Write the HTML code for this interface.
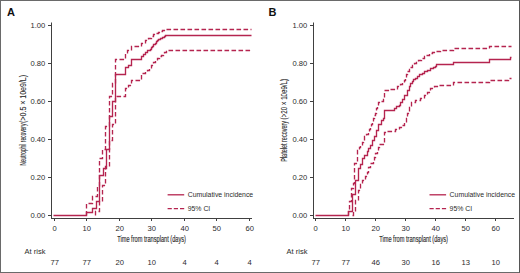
<!DOCTYPE html>
<html><head><meta charset="utf-8"><style>
html,body{margin:0;padding:0;background:#fff;}
body{width:520px;height:273px;overflow:hidden;position:relative;}
.frame{position:absolute;left:0;top:0;width:518px;height:271px;border:1px solid #6a6a6a;border-right-color:#555;}
svg{position:absolute;left:0;top:0;font-family:"Liberation Sans",sans-serif;}
text{stroke:none;}
text.ttl,text.ytl{stroke:#2b2b2b;}
text.ttl{stroke-width:0.15px;}
text.ytl{stroke-width:0.1px;}
</style></head><body>
<div class="frame"></div>
<svg width="520" height="273" viewBox="0 0 520 273">
<text x="6.9" y="15.7" font-size="11" font-weight="bold" fill="#111">A</text>
<path d="M51.5,22.5 V219 M51.0,218.5 H252" fill="none" stroke="#404040" stroke-width="1"/>
<text x="45.3" y="27.5" font-size="7.6" text-anchor="end" fill="#2b2b2b">1.00</text>
<text x="45.3" y="65.5" font-size="7.6" text-anchor="end" fill="#2b2b2b">0.80</text>
<text x="45.3" y="103.5" font-size="7.6" text-anchor="end" fill="#2b2b2b">0.60</text>
<text x="45.3" y="141.5" font-size="7.6" text-anchor="end" fill="#2b2b2b">0.40</text>
<text x="45.3" y="179.5" font-size="7.6" text-anchor="end" fill="#2b2b2b">0.20</text>
<text x="45.3" y="217.5" font-size="7.6" text-anchor="end" fill="#2b2b2b">0.00</text>
<text x="54.7" y="230.5" font-size="7.6" text-anchor="middle" fill="#2b2b2b">0</text>
<text x="54.7" y="264.8" font-size="7.6" text-anchor="middle" fill="#2b2b2b">77</text>
<text x="86.7" y="230.5" font-size="7.6" text-anchor="middle" fill="#2b2b2b">10</text>
<text x="86.7" y="264.8" font-size="7.6" text-anchor="middle" fill="#2b2b2b">77</text>
<text x="119.7" y="230.5" font-size="7.6" text-anchor="middle" fill="#2b2b2b">20</text>
<text x="119.7" y="264.8" font-size="7.6" text-anchor="middle" fill="#2b2b2b">20</text>
<text x="151.7" y="230.5" font-size="7.6" text-anchor="middle" fill="#2b2b2b">30</text>
<text x="151.7" y="264.8" font-size="7.6" text-anchor="middle" fill="#2b2b2b">10</text>
<text x="184.7" y="230.5" font-size="7.6" text-anchor="middle" fill="#2b2b2b">40</text>
<text x="184.7" y="264.8" font-size="7.6" text-anchor="middle" fill="#2b2b2b">4</text>
<text x="216.7" y="230.5" font-size="7.6" text-anchor="middle" fill="#2b2b2b">50</text>
<text x="216.7" y="264.8" font-size="7.6" text-anchor="middle" fill="#2b2b2b">4</text>
<text x="249.7" y="230.5" font-size="7.6" text-anchor="middle" fill="#2b2b2b">60</text>
<text x="249.7" y="264.8" font-size="7.6" text-anchor="middle" fill="#2b2b2b">4</text>
<path d="M48,25.5 H51 M48,63.5 H51 M48,101.5 H51 M48,139.5 H51 M48,177.5 H51 M48,215.5 H51 M54.5,219 V221 M86.5,219 V221 M119.5,219 V221 M151.5,219 V221 M184.5,219 V221 M216.5,219 V221 M249.5,219 V221" fill="none" stroke="#404040" stroke-width="1"/>
<text x="117.2" y="242.4" font-size="8.6" textLength="68.8" lengthAdjust="spacingAndGlyphs" fill="#2b2b2b" class="ttl">Time from transplant (days)</text>
<text x="24.6" y="253.7" font-size="7.5" fill="#2b2b2b">At risk</text>
<text transform="translate(25.8,165.6) rotate(-90)" font-size="8.2" textLength="41.90" lengthAdjust="spacingAndGlyphs" fill="#2b2b2b" class="ytl">Neutrophil recovery</text>
<text transform="translate(25.8,122.9) rotate(-90)" font-size="8.2" textLength="48.00" lengthAdjust="spacingAndGlyphs" fill="#2b2b2b" class="ytl">(&gt;0.5 × 10e9/L)</text>
<line x1="167.6" y1="194.8" x2="184.2" y2="194.8" stroke="#b5244f" stroke-width="1.3"/>
<text x="187.7" y="197.3" font-size="6.9" fill="#2b2b2b">Cumulative incidence</text>
<line x1="167.6" y1="208.6" x2="184.2" y2="208.6" stroke="#b5244f" stroke-width="1.3" stroke-dasharray="4.2 2"/>
<text x="187.7" y="211.1" font-size="6.9" fill="#2b2b2b">95% CI</text>
<path d="M86.5,215.5 V203.5 H92.5 V196.5 H97.5 V186.5 H99.5 V158.5 H102.5 V149.5 H105.5 V126.5 H109.5 V96.5 H112.5 V83.5 H115.5 V59.5 H125.5 V53.5 H127.5 V50.5 H131.5 V46.5 H141.5 V43.5 H145.5 V40.5 H148.5 V38.5 H151.5 V36.5 H153.5 V34.5 H156.5 V33.5 H158.5 V32.5 H160.5 V31.5 H162.5 V30.5 H165.5 V29.5 H169.5 V29.5 H251.5" fill="none" stroke="#b5244f" stroke-width="1.35" stroke-dasharray="4.6 2.4"/>
<path d="M95.5,215.5 V211.5 H99.5 V201.5 H102.5 V185.5 H105.5 V166.5 H109.5 V140.5 H112.5 V124.5 H115.5 V96.5 H125.5 V88.5 H128.5 V85.5 H131.5 V80.5 H141.5 V73.5 H145.5 V71.5 H147.5 V70.5 H149.5 V68.5 H151.5 V65.5 H153.5 V62.5 H155.5 V60.5 H157.5 V58.5 H159.5 V56.5 H161.5 V55.5 H163.5 V53.5 H164.5 V52.5 H166.5 V51.5 H168.5 V50.5 H251.5" fill="none" stroke="#b5244f" stroke-width="1.35" stroke-dasharray="4.6 2.4"/>
<path d="M53.5,215.5 H86.5 V212.5 H92.5 V208.5 H96.5 V201.5 H99.5 V175.5 H103.5 V168.5 H106.5 V149.5 H109.5 V116.5 H112.5 V101.5 H115.5 V74.5 H125.5 V67.5 H128.5 V65.5 H131.5 V59.5 H141.5 V56.5 H143.5 V54.5 H145.5 V52.5 H147.5 V50.5 H150.5 V49.5 H151.5 V47.5 H152.5 V46.5 H153.5 V44.5 H155.5 V43.5 H156.5 V41.5 H157.5 V40.5 H158.5 V39.5 H160.5 V38.5 H162.5 V37.5 H164.5 V36.5 H165.5 V35.5 H168.5 V35.5 H251.5" fill="none" stroke="#b5244f" stroke-width="1.35"/>
<text x="268.6" y="15.7" font-size="11" font-weight="bold" fill="#111">B</text>
<path d="M313.5,22.5 V219 M313.0,218.5 H514" fill="none" stroke="#404040" stroke-width="1"/>
<text x="307.3" y="27.5" font-size="7.6" text-anchor="end" fill="#2b2b2b">1.00</text>
<text x="307.3" y="65.5" font-size="7.6" text-anchor="end" fill="#2b2b2b">0.80</text>
<text x="307.3" y="103.5" font-size="7.6" text-anchor="end" fill="#2b2b2b">0.60</text>
<text x="307.3" y="141.5" font-size="7.6" text-anchor="end" fill="#2b2b2b">0.40</text>
<text x="307.3" y="179.5" font-size="7.6" text-anchor="end" fill="#2b2b2b">0.20</text>
<text x="307.3" y="217.5" font-size="7.6" text-anchor="end" fill="#2b2b2b">0.00</text>
<text x="315.7" y="230.5" font-size="7.6" text-anchor="middle" fill="#2b2b2b">0</text>
<text x="315.7" y="264.8" font-size="7.6" text-anchor="middle" fill="#2b2b2b">77</text>
<text x="345.7" y="230.5" font-size="7.6" text-anchor="middle" fill="#2b2b2b">10</text>
<text x="345.7" y="264.8" font-size="7.6" text-anchor="middle" fill="#2b2b2b">77</text>
<text x="375.7" y="230.5" font-size="7.6" text-anchor="middle" fill="#2b2b2b">20</text>
<text x="375.7" y="264.8" font-size="7.6" text-anchor="middle" fill="#2b2b2b">46</text>
<text x="405.7" y="230.5" font-size="7.6" text-anchor="middle" fill="#2b2b2b">30</text>
<text x="405.7" y="264.8" font-size="7.6" text-anchor="middle" fill="#2b2b2b">30</text>
<text x="435.7" y="230.5" font-size="7.6" text-anchor="middle" fill="#2b2b2b">40</text>
<text x="435.7" y="264.8" font-size="7.6" text-anchor="middle" fill="#2b2b2b">16</text>
<text x="465.7" y="230.5" font-size="7.6" text-anchor="middle" fill="#2b2b2b">50</text>
<text x="465.7" y="264.8" font-size="7.6" text-anchor="middle" fill="#2b2b2b">13</text>
<text x="495.7" y="230.5" font-size="7.6" text-anchor="middle" fill="#2b2b2b">60</text>
<text x="495.7" y="264.8" font-size="7.6" text-anchor="middle" fill="#2b2b2b">10</text>
<path d="M310,25.5 H313 M310,63.5 H313 M310,101.5 H313 M310,139.5 H313 M310,177.5 H313 M310,215.5 H313 M315.5,219 V221 M345.5,219 V221 M375.5,219 V221 M405.5,219 V221 M435.5,219 V221 M465.5,219 V221 M495.5,219 V221" fill="none" stroke="#404040" stroke-width="1"/>
<text x="379.2" y="242.4" font-size="8.6" textLength="68.80000000000001" lengthAdjust="spacingAndGlyphs" fill="#2b2b2b" class="ttl">Time from transplant (days)</text>
<text x="286.6" y="253.7" font-size="7.5" fill="#2b2b2b">At risk</text>
<text transform="translate(287.2,161.8) rotate(-90)" font-size="8.2" textLength="40.90" lengthAdjust="spacingAndGlyphs" fill="#2b2b2b" class="ytl">Platelet recovery</text>
<text transform="translate(287.2,119.4) rotate(-90)" font-size="8.2" textLength="40.50" lengthAdjust="spacingAndGlyphs" fill="#2b2b2b" class="ytl">(&gt;20 × 10e9/L)</text>
<line x1="429.5" y1="194.8" x2="446.1" y2="194.8" stroke="#b5244f" stroke-width="1.3"/>
<text x="449.6" y="197.3" font-size="6.9" fill="#2b2b2b">Cumulative incidence</text>
<line x1="429.5" y1="208.6" x2="446.1" y2="208.6" stroke="#b5244f" stroke-width="1.3" stroke-dasharray="4.2 2"/>
<text x="449.6" y="211.1" font-size="6.9" fill="#2b2b2b">95% CI</text>
<path d="M348.5,215.5 V210.5 H349.5 V201.5 H351.5 V188.5 H353.5 V183.5 H354.5 V163.5 H357.5 V150.5 H359.5 V147.5 H360.5 V145.5 H362.5 V142.5 H363.5 V140.5 H364.5 V136.5 H366.5 V134.5 H368.5 V131.5 H369.5 V129.5 H370.5 V126.5 H371.5 V124.5 H372.5 V122.5 H373.5 V118.5 H374.5 V115.5 H375.5 V113.5 H376.5 V111.5 H376.5 V108.5 H377.5 V105.5 H378.5 V102.5 H381.5 V101.5 H383.5 V99.5 H384.5 V90.5 H390.5 V89.5 H397.5 V86.5 H400.5 V84.5 H402.5 V82.5 H404.5 V80.5 H405.5 V78.5 H406.5 V74.5 H407.5 V71.5 H409.5 V69.5 H410.5 V67.5 H412.5 V65.5 H414.5 V63.5 H416.5 V62.5 H418.5 V60.5 H421.5 V58.5 H424.5 V56.5 H426.5 V55.5 H429.5 V53.5 H432.5 V52.5 H435.5 V51.5 H440.5 V50.5 H453.5 V48.5 H489.5 V46.5 H511.5" fill="none" stroke="#b5244f" stroke-width="1.35" stroke-dasharray="4.6 2.4"/>
<path d="M352.5,215.5 H353.5 V211.5 H355.5 V200.5 H358.5 V190.5 H360.5 V184.5 H362.5 V180.5 H365.5 V176.5 H367.5 V172.5 H368.5 V167.5 H370.5 V163.5 H373.5 V160.5 H374.5 V157.5 H375.5 V153.5 H377.5 V150.5 H378.5 V147.5 H379.5 V144.5 H384.5 V132.5 H387.5 V131.5 H392.5 V131.5 H395.5 V129.5 H399.5 V127.5 H402.5 V125.5 H404.5 V122.5 H406.5 V118.5 H407.5 V113.5 H409.5 V107.5 H411.5 V102.5 H415.5 V100.5 H420.5 V98.5 H424.5 V95.5 H427.5 V92.5 H430.5 V88.5 H434.5 V86.5 H439.5 V85.5 H453.5 V82.5 H489.5 V80.5 H508.5 V78.5 H511.5" fill="none" stroke="#b5244f" stroke-width="1.35" stroke-dasharray="4.6 2.4"/>
<path d="M315.5,215.5 H348.5 V211.5 H352.5 V194.5 H355.5 V180.5 H358.5 V168.5 H360.5 V164.5 H362.5 V158.5 H364.5 V155.5 H367.5 V151.5 H368.5 V148.5 H370.5 V145.5 H372.5 V140.5 H374.5 V136.5 H376.5 V130.5 H378.5 V124.5 H381.5 V120.5 H383.5 V118.5 H384.5 V110.5 H394.5 V108.5 H396.5 V106.5 H399.5 V105.5 H400.5 V102.5 H402.5 V99.5 H404.5 V95.5 H407.5 V90.5 H409.5 V86.5 H410.5 V83.5 H412.5 V81.5 H413.5 V79.5 H415.5 V78.5 H417.5 V76.5 H419.5 V74.5 H422.5 V73.5 H424.5 V71.5 H427.5 V70.5 H430.5 V68.5 H433.5 V67.5 H435.5 V66.5 H436.5 V64.5 H453.5 V62.5 H489.5 V59.5 H510.5 V57.5 H511.5" fill="none" stroke="#b5244f" stroke-width="1.35"/>
</svg>
</body></html>
